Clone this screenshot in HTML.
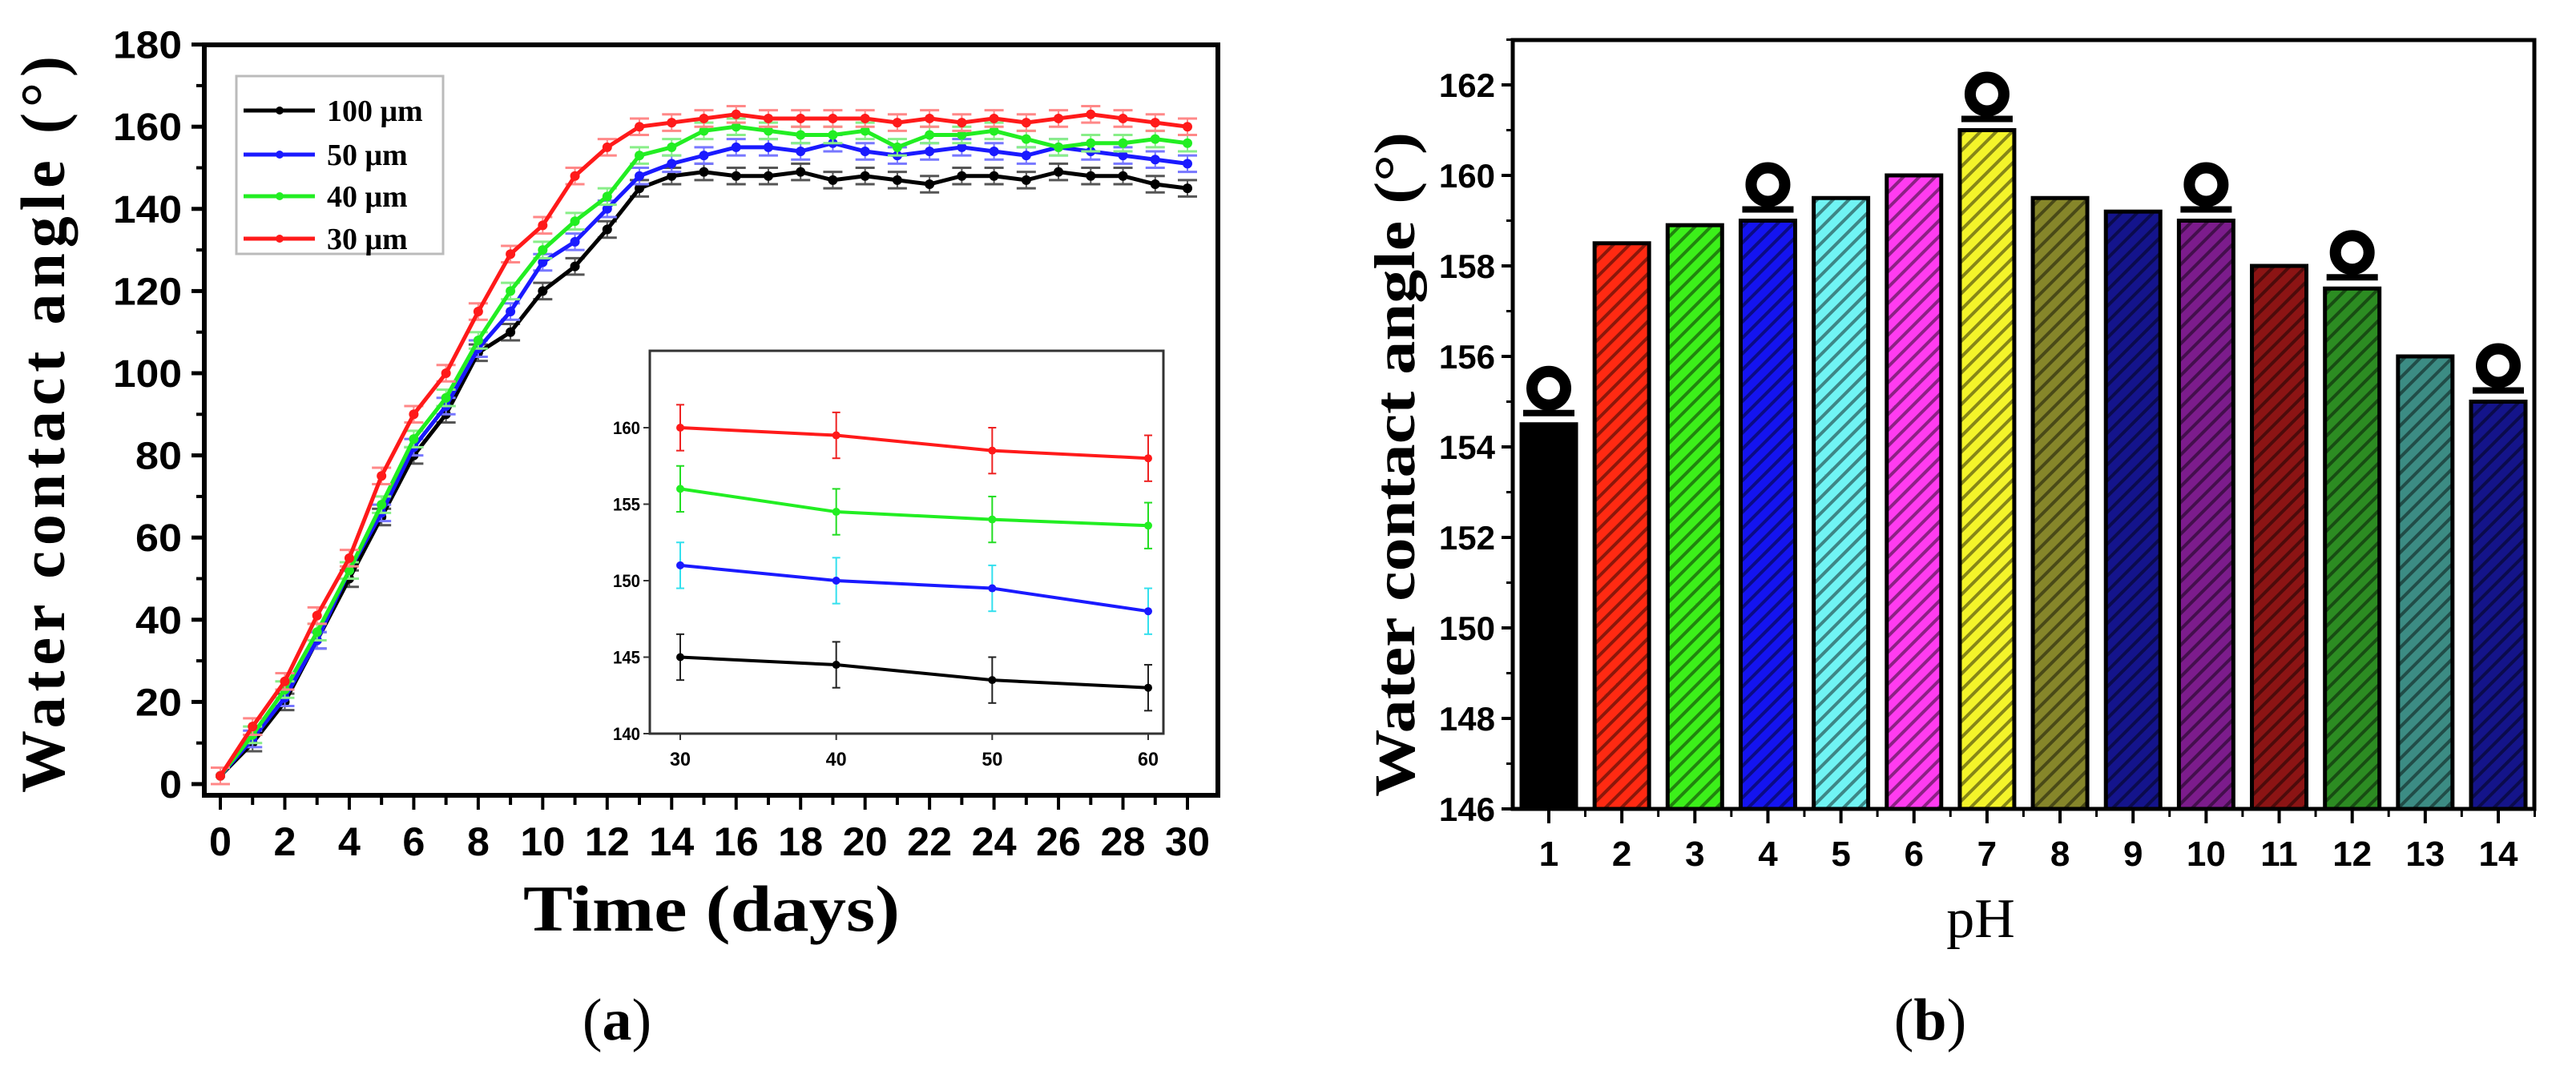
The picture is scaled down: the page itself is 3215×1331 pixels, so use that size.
<!DOCTYPE html>
<html><head><meta charset="utf-8"><style>
html,body{margin:0;padding:0;background:#fff;}
svg{display:block;}
.tk{font-family:"Liberation Sans",sans-serif;font-weight:bold;}
.sf{font-family:"Liberation Serif",serif;}
</style></head><body>
<svg id="svg" width="3215" height="1331" viewBox="0 0 3215 1331" xmlns="http://www.w3.org/2000/svg">
<defs>
<pattern id="hatch" patternUnits="userSpaceOnUse" width="14" height="14" patternTransform="rotate(-45)">
<rect x="0" y="0" width="14" height="4" fill="rgba(0,0,0,0.45)"/>
</pattern>
</defs>
<g id="chartA"></g>
<g id="chartB"></g>
</svg>
<script>
// ---- Chart (a) data ----
const days = [0,1,2,3,4,5,6,7,8,9,10,11,12,13,14,15,16,17,18,19,20,21,22,23,24,25,26,27,28,29,30];
const s100 = [2,10,20,35,50,65,80,90,105,110,120,126,135,145,148,149,148,148,149,147,148,147,146,148,148,147,149,148,148,146,145];
const s50 = [2,11,21,35,52,66,82,92,106,115,127,132,140,148,151,153,155,155,154,156,154,153,154,155,154,153,155,154,153,152,151];
const s40 = [2,12,23,37,52,68,84,94,108,120,130,137,143,153,155,159,160,159,158,158,159,155,158,158,159,157,155,156,156,157,156];
const s30 = [2,14,25,41,55,75,90,100,115,129,136,148,155,160,161,162,163,162,162,162,162,161,162,161,162,161,162,163,162,161,160];
const seriesNames = ["100 μm","50 μm","40 μm","30 μm"];
const yTicksA = [0,20,40,60,80,100,120,140,160,180];
const xTicksA = [0,2,4,6,8,10,12,14,16,18,20,22,24,26,28,30];
// inset
const insetX = [30,40,50,60];
const in100 = [145,144.5,143.5,143];
const in50 = [151,150,149.5,148];
const in40 = [156,154.5,154,153.6];
const in30 = [160,159.5,158.5,158];
const insetYTicks = [140,145,150,155,160];
// ---- Chart (b) data ----
const phCats = [1,2,3,4,5,6,7,8,9,10,11,12,13,14];
const phVals = [154.5,158.5,158.9,159,159.5,160,161,159.5,159.2,159,158,157.5,156,155];
const phColors = ["#000000","#ff2a12","#3cf01a","#1414f0","#70f4f4","#ff3cf0","#f4f42a","#86862a","#14148c","#7c1c8c","#8c1414","#2c8c22","#3c8c84","#14148a"];
const dropletOn = [1,4,7,10,12,14];
const yTicksB = [146,148,150,152,154,156,158,160,162];

const NS="http://www.w3.org/2000/svg";
function mk(parent,tag,attrs,text){const e=document.createElementNS(NS,tag);for(const k in attrs)e.setAttribute(k,attrs[k]);if(text!==undefined)e.textContent=text;parent.appendChild(e);return e;}

// ---------- Chart A ----------
const A=document.getElementById('chartA');
const axL=255, axR=1520, axT=56, axB=993;
const xA=d=>275+d*(1482-275)/30;
const yA=v=>979-v*5.13;
let e;
e=mk(A,'rect',{x:axL,y:axT,width:axR-axL,height:axB-axT,fill:'none',stroke:'#000','stroke-width':6});


yTicksA.forEach(v=>{
  mk(A,'line',{x1:axL-16,x2:axL,y1:yA(v),y2:yA(v),stroke:'#000','stroke-width':5});
  if(v<180) mk(A,'line',{x1:axL-10,x2:axL,y1:yA(v+10),y2:yA(v+10),stroke:'#000','stroke-width':4});
  e=mk(A,'text',{x:axL-28,y:yA(v)+17,'text-anchor':'end','font-size':48,class:'tk',textLength:v>=100?86:(v>0?58:28),lengthAdjust:'spacingAndGlyphs'},String(v));
  
  
});
days.forEach(d=>{
  mk(A,'line',{x1:xA(d),x2:xA(d),y1:axB,y2:axB+(d%2===0?18:12),stroke:'#000','stroke-width':4});
});
xTicksA.forEach(d=>{
  e=mk(A,'text',{x:xA(d),y:1068,'text-anchor':'middle','font-size':50,class:'tk',textLength:d>=10?56:28,lengthAdjust:'spacingAndGlyphs'},String(d));
  
  
});
e=mk(A,'text',{x:888,y:1162,'text-anchor':'middle','font-size':82,'font-weight':'bold',class:'sf',textLength:470,lengthAdjust:'spacingAndGlyphs'},'Time (days)');


e=mk(A,'text',{x:0,y:0,'text-anchor':'middle','font-size':78,'font-weight':'bold',class:'sf',textLength:920,lengthAdjust:'spacing',transform:'translate(80,530) rotate(-90)'},'Water contact angle (°)');


e=mk(A,'text',{x:770,y:1298,'text-anchor':'middle','font-size':74,class:'sf'});


e.innerHTML='(<tspan font-weight="bold">a</tspan>)';

const colsA=['#000000','#1a1aff','#22ee22','#ff1a1a'];
const errCols=['#555555','#7777ff','#88ee88','#ff8888'];
const dataA=[s100,s50,s40,s30];
dataA.forEach((s,i)=>{
  const g=mk(A,'g',{});
  
  
  s.forEach((v,j)=>{
    const x=xA(days[j]),y1=yA(v+2),y2=yA(v-2);
    mk(g,'line',{x1:x,x2:x,y1:y1,y2:y2,stroke:errCols[i],'stroke-width':2});
    mk(g,'line',{x1:x-12,x2:x+12,y1:y1,y2:y1,stroke:errCols[i],'stroke-width':3});
    mk(g,'line',{x1:x-12,x2:x+12,y1:y2,y2:y2,stroke:errCols[i],'stroke-width':3});
  });
  mk(g,'polyline',{points:s.map((v,j)=>xA(days[j])+','+yA(v)).join(' '),fill:'none',stroke:colsA[i],'stroke-width':5});
  s.forEach((v,j)=>{
    const p=mk(g,'circle',{cx:xA(days[j]),cy:yA(v),r:6,fill:colsA[i]});
    
    
  });
});
// legend
const lg=mk(A,'g',{});


mk(lg,'rect',{x:295,y:95,width:258,height:222,fill:'#fff',stroke:'#bbb','stroke-width':3});
const lgY=[138,193,245,298];
seriesNames.forEach((n,i)=>{
  mk(lg,'line',{x1:304,x2:393,y1:lgY[i],y2:lgY[i],stroke:colsA[i],'stroke-width':5});
  mk(lg,'circle',{cx:349,cy:lgY[i],r:5,fill:colsA[i]});
  const t=mk(lg,'text',{x:408,y:lgY[i]+13,'font-size':38,'font-weight':'bold',class:'sf'},n);
  
  
});
// inset
const I=mk(A,'g',{});


const iL=811,iR=1452,iT=438,iB=916;
const xI=d=>849+(d-30)*(1433-849)/30;
const yI=v=>916-(v-140)*19.1;
mk(I,'rect',{x:iL,y:iT,width:iR-iL,height:iB-iT,fill:'#fff',stroke:'#333','stroke-width':3});
insetYTicks.forEach(v=>{
  mk(I,'line',{x1:iL-8,x2:iL,y1:yI(v),y2:yI(v),stroke:'#333','stroke-width':2});
  const t=mk(I,'text',{x:iL-12,y:yI(v)+8,'text-anchor':'end','font-size':22,class:'tk',textLength:34,lengthAdjust:'spacingAndGlyphs'},String(v));
  
  
});
insetX.forEach(d=>{
  mk(I,'line',{x1:xI(d),x2:xI(d),y1:iB,y2:iB+8,stroke:'#333','stroke-width':2});
  const t=mk(I,'text',{x:xI(d),y:956,'text-anchor':'middle','font-size':24,class:'tk',textLength:26,lengthAdjust:'spacingAndGlyphs'},String(d));
  
  
});
const inData=[in100,in50,in40,in30];
const inErr=['#222','#33e0ee','#22dd22','#ee2222'];
inData.forEach((s,i)=>{
  const g=mk(I,'g',{});
  
  
  mk(g,'polyline',{points:s.map((v,j)=>xI(insetX[j])+','+yI(v)).join(' '),fill:'none',stroke:colsA[i],'stroke-width':4});
  s.forEach((v,j)=>{
    const x=xI(insetX[j]),a=yI(v+1.5),b=yI(v-1.5);
    mk(g,'line',{x1:x,x2:x,y1:a,y2:b,stroke:inErr[i],'stroke-width':2});
    mk(g,'line',{x1:x-5,x2:x+5,y1:a,y2:a,stroke:inErr[i],'stroke-width':2});
    mk(g,'line',{x1:x-5,x2:x+5,y1:b,y2:b,stroke:inErr[i],'stroke-width':2});
    mk(g,'circle',{cx:x,cy:yI(v),r:5,fill:colsA[i]});
  });
});

// ---------- Chart B ----------
const B=document.getElementById('chartB');
const bL=1888,bR=3163,bT=50,bB=1010;
const xB=c=>1933+(c-1)*(3118-1933)/13;
const yB=v=>1010-(v-146)*56.5;
const bw=68;
phCats.forEach((c,i)=>{
  const x=xB(c)-bw/2,y=yB(phVals[i]);
  const r=mk(B,'rect',{x:x,y:y,width:bw,height:bB-y,fill:phColors[i],stroke:'#000','stroke-width':5});
  
  
  if(i>0) mk(B,'rect',{x:x,y:y,width:bw,height:bB-y,fill:'url(#hatch)'});
  if(dropletOn.indexOf(c)>=0){
    const g=mk(B,'g',{});
    
    
    mk(g,'rect',{x:xB(c)-32,y:y-18,width:64,height:8,fill:'#000'});
    mk(g,'circle',{cx:xB(c),cy:y-45,r:21,fill:'none',stroke:'#000','stroke-width':14});
  }
});
e=mk(B,'rect',{x:bL,y:bT,width:bR-bL,height:bB-bT,fill:'none',stroke:'#000','stroke-width':5});


yTicksB.forEach(v=>{
  mk(B,'line',{x1:bL-14,x2:bL,y1:yB(v),y2:yB(v),stroke:'#000','stroke-width':4});
  mk(B,'line',{x1:bL-8,x2:bL,y1:yB(v+1),y2:yB(v+1),stroke:'#000','stroke-width':3});
  const t=mk(B,'text',{x:bL-22,y:yB(v)+15,'text-anchor':'end','font-size':42,class:'tk'},String(v));
  
  
});
phCats.forEach(c=>{
  mk(B,'line',{x1:xB(c),x2:xB(c),y1:bB,y2:bB+18,stroke:'#000','stroke-width':4});
  mk(B,'line',{x1:xB(c)+45.5,x2:xB(c)+45.5,y1:bB,y2:bB+10,stroke:'#000','stroke-width':3});
  const t=mk(B,'text',{x:xB(c),y:1081,'text-anchor':'middle','font-size':44,class:'tk'},String(c));
  
  
});
e=mk(B,'text',{x:2472,y:1170,'text-anchor':'middle','font-size':70,class:'sf'},'pH');


e=mk(B,'text',{x:0,y:0,'text-anchor':'middle','font-size':72,'font-weight':'bold',class:'sf',textLength:830,lengthAdjust:'spacingAndGlyphs',transform:'translate(1765,580) rotate(-90)'},'Water contact angle (°)');


e=mk(B,'text',{x:2409,y:1298,'text-anchor':'middle','font-size':74,class:'sf'});


e.innerHTML='(<tspan font-weight="bold">b</tspan>)';
</script>
</body></html>
